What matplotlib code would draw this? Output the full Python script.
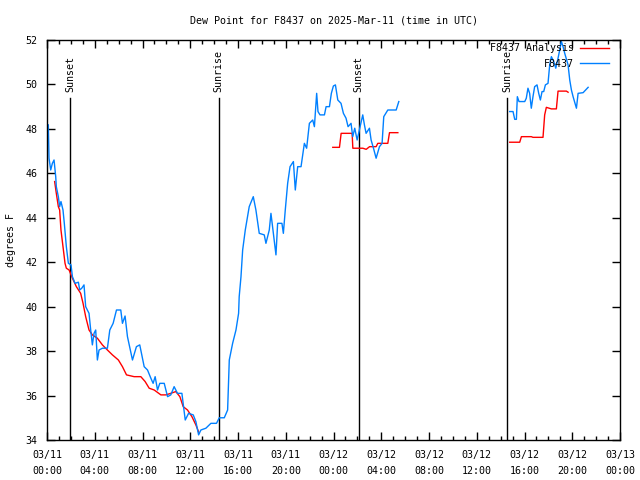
import matplotlib
matplotlib.use("Agg")
import matplotlib.pyplot as plt
from matplotlib.ticker import MultipleLocator

plt.rcParams['font.family'] = ['DejaVu Sans Mono']
plt.rcParams['font.size'] = 7.2

# hours since 2025-03-11 00:00 UTC
obs_hours = [0.11, 0.17, 0.31, 0.45, 0.59, 0.73, 0.78, 0.95, 1.06, 1.17, 1.34, 1.45, 1.62, 1.79,
             2.01, 2.13, 2.35, 2.63, 2.74, 2.91, 3.1, 3.24, 3.52, 3.66, 3.8, 3.94, 4.08, 4.22,
             4.36, 4.64, 5.06, 5.26, 5.54, 5.82, 6.18, 6.32, 6.54, 6.74, 7.16, 7.49, 7.77, 8.14,
             8.42, 8.7, 8.89, 9.06, 9.26, 9.45, 9.82, 10.1, 10.37, 10.65, 10.93, 11.3, 11.58,
             11.86, 12.25, 12.47, 12.7, 12.89, 13.31, 13.73, 14.2, 14.43, 14.85, 15.13, 15.27,
             15.55, 15.83, 16.05, 16.1, 16.25, 16.39, 16.61, 16.94, 17.28, 17.5, 17.78, 18.2,
             18.34, 18.62, 18.76, 18.96, 19.18, 19.32, 19.68, 19.8, 19.96, 20.16, 20.36, 20.64,
             20.8, 21.0, 21.28, 21.56, 21.75, 21.98, 22.26, 22.4, 22.59, 22.7, 22.87, 23.24,
             23.38, 23.66, 23.82, 23.99, 24.16, 24.36, 24.63, 24.83, 25.05, 25.22, 25.47, 25.61,
             25.78, 25.98, 26.17, 26.45, 26.59, 26.73, 27.01, 27.15, 27.35, 27.57, 27.85, 28.07,
             28.21, 28.55, 29.25, 29.47]
obs_dewpt = [48.18, 46.68, 46.15, 46.45, 46.6, 45.85, 45.4, 44.95, 44.5, 44.73, 44.35, 43.75,
             42.7, 41.95, 41.88, 41.35, 41.05, 41.1, 40.75, 40.83, 40.98, 40.0, 39.7, 38.95,
             38.28, 38.8, 38.95, 37.6, 38.05, 38.13, 38.13, 38.95, 39.25, 39.85, 39.85, 39.25,
             39.58, 38.65, 37.6, 38.2, 38.28, 37.3, 37.15, 36.78, 36.55, 36.85, 36.25, 36.55,
             36.55, 35.95, 36.03, 36.4, 36.1, 36.1, 34.9, 35.2, 35.13, 34.83, 34.23, 34.45,
             34.53, 34.75, 34.75, 35.0, 35.0, 35.35, 37.6, 38.35, 38.95, 39.7, 40.45, 41.35,
             42.55, 43.45, 44.5, 44.95, 44.35, 43.3, 43.23, 42.85, 43.45, 44.2, 43.3, 42.33,
             43.75, 43.75, 43.3, 44.35, 45.55, 46.3, 46.53, 45.25, 46.3, 46.3, 47.35, 47.13,
             48.25, 48.4, 48.1, 49.6, 48.78, 48.63, 48.63, 49.0, 49.0, 49.6, 49.93, 49.98, 49.3,
             49.15, 48.7, 48.48, 48.1, 48.25, 47.65, 48.03, 47.5, 47.95, 48.63, 48.18, 47.8,
             48.03, 47.5, 47.13, 46.68, 47.2, 47.35, 48.55, 48.85, 48.85, 49.23]

obs2_hours = [38.76, 39.04, 39.18, 39.32, 39.4, 39.54, 40.02, 40.15, 40.29, 40.43, 40.57, 40.71,
              40.85, 41.05, 41.19, 41.33, 41.47, 41.61, 41.75, 41.97, 42.11, 42.25, 42.45, 42.62,
              42.81, 43.09, 43.23, 43.37, 43.65, 43.79, 43.93, 44.07, 44.35, 44.49, 44.91, 45.33]
obs2_dewpt = [48.78, 48.78, 48.43, 48.43, 49.45, 49.23, 49.23, 49.38, 49.83, 49.6, 48.93, 49.45,
              49.9, 49.98, 49.6, 49.3, 49.68, 49.68, 49.98, 50.05, 50.88, 51.25, 51.03, 50.73,
              51.18, 51.93, 51.7, 51.4, 50.88, 50.2, 49.75, 49.45, 48.93, 49.6, 49.63, 49.87]

ana1_hours = [0.64, 0.78, 0.95, 1.06, 1.17, 1.34, 1.51, 1.62, 1.85, 2.13, 2.46, 2.82, 3.02, 3.24,
              3.52, 3.8, 4.22, 4.64, 5.06, 5.48, 5.98, 6.32, 6.66, 7.3, 7.86, 8.22, 8.56, 8.98,
              9.54, 9.96, 10.37, 10.79, 11.13, 11.41, 11.77, 12.14, 12.47, 12.75]
ana1_dewpt = [45.63, 45.1, 44.5, 44.35, 43.45, 42.7, 41.95, 41.73, 41.65, 41.28, 40.9, 40.6,
              40.15, 39.55, 38.95, 38.73, 38.58, 38.28, 38.05, 37.83, 37.6, 37.3, 36.93, 36.85,
              36.85, 36.63, 36.33, 36.25, 36.03, 36.03, 36.1, 36.18, 35.95, 35.5, 35.35, 35.05,
              34.68, 34.3]

ana2_hours = [23.94, 24.5, 24.64, 25.56, 25.62, 26.46, 26.74, 27.02, 27.57, 27.71, 28.55, 28.69, 29.39]
ana2_dewpt = [47.17, 47.17, 47.8, 47.8, 47.13, 47.13, 47.08, 47.2, 47.2, 47.35, 47.35, 47.83, 47.83]

ana3_hours = [38.76, 39.6, 39.74, 40.57, 40.71, 41.55, 41.69, 41.83, 42.25, 42.67, 42.81, 43.51, 43.65]
ana3_dewpt = [47.4, 47.4, 47.65, 47.65, 47.62, 47.62, 48.63, 48.97, 48.9, 48.9, 49.7, 49.7, 49.65]

sun_hours = [1.93, 14.37, 26.12, 38.53]
sun_labels = ["Sunset", "Sunrise", "Sunset", "Sunrise"]

tick_hours = list(range(0, 49, 4))
tick_labels = ["03/11\n00:00", "03/11\n04:00", "03/11\n08:00", "03/11\n12:00", "03/11\n16:00",
               "03/11\n20:00", "03/12\n00:00", "03/12\n04:00", "03/12\n08:00", "03/12\n12:00",
               "03/12\n16:00", "03/12\n20:00", "03/13\n00:00"]

fig = plt.figure(figsize=(6.4, 4.8), dpi=100)
ax = fig.add_axes([47 / 640, 40 / 480, 573 / 640, 400 / 480])

red = '#ff0000'
blue = '#0080ff'

for h, lab in zip(sun_hours, sun_labels):
    ax.plot([h, h], [34, 49.4], color='black', lw=1.0)
    ax.text(h, 49.65, lab, rotation=90, ha='center', va='bottom')

ax.plot(ana1_hours, ana1_dewpt, color=red, lw=1.0, label='F8437 Analysis')
ax.plot(ana2_hours, ana2_dewpt, color=red, lw=1.0)
ax.plot(ana3_hours, ana3_dewpt, color=red, lw=1.0)
ax.plot(obs_hours, obs_dewpt, color=blue, lw=1.0, label='F8437')
ax.plot(obs2_hours, obs2_dewpt, color=blue, lw=1.0)

ax.set_xlim(0, 48)
ax.set_ylim(34, 52)
ax.set_xticks(tick_hours)
ax.set_xticklabels(tick_labels, linespacing=1.75)
ax.xaxis.set_minor_locator(MultipleLocator(1))
ax.set_yticks(range(34, 53, 2))
ax.tick_params(which='both', direction='in', top=True, right=True, width=1.0)
ax.tick_params(axis='x', pad=7)
ax.tick_params(axis='y', pad=7)
ax.tick_params(which='major', length=6)
ax.tick_params(which='minor', length=3)
for s in ax.spines.values():
    s.set_linewidth(1.0)

ax.set_ylabel('degrees F', labelpad=7)
ax.set_title('Dew Point for F8437 on 2025-Mar-11 (time in UTC)', fontsize=7.2, pad=12)

leg = ax.legend(loc='upper right', bbox_to_anchor=(1 - 8 / 573, 1), frameon=False,
                markerfirst=False, handlelength=2.9, borderaxespad=0.0, borderpad=0.35,
                labelspacing=0.55, handletextpad=0.6, alignment='right')
for t in leg.get_texts():
    t.set_ha('right')

fig.savefig('out.png', dpi=100)
